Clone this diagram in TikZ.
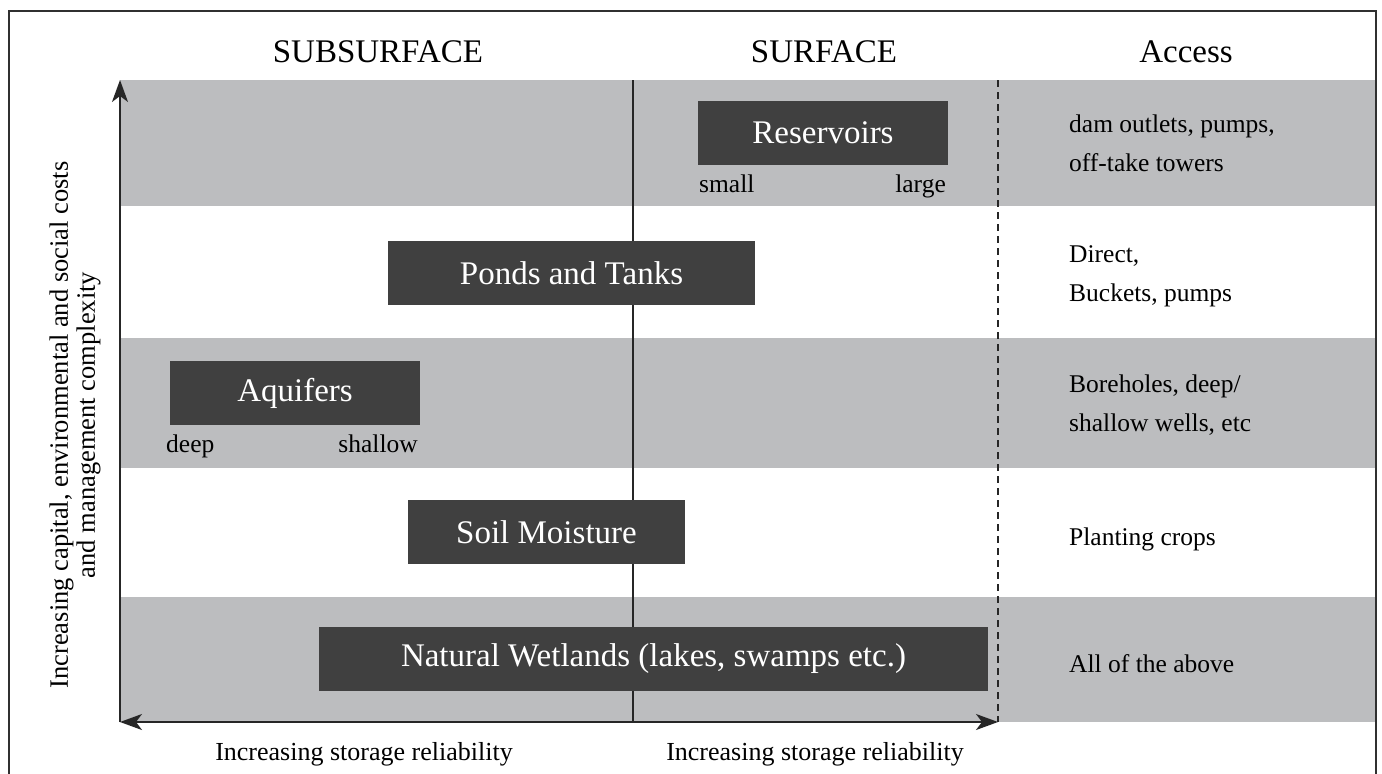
\documentclass[tikz,border=0pt]{standalone}
\usepackage{fontspec}
\setmainfont{Liberation Serif}
\usetikzlibrary{arrows.meta}
\definecolor{band}{HTML}{BCBDBF}
\definecolor{boxdark}{HTML}{404040}
\definecolor{framecol}{HTML}{303030}
\begin{document}
\begin{tikzpicture}[x=1pt,y=-1pt,
  darkbox/.style={fill=boxdark, text=white, font=\fontsize{33}{40}\selectfont, inner sep=0pt, minimum height=64pt},
  header/.style={font=\fontsize{33}{40}\selectfont, anchor=base},
  smalltext/.style={font=\fontsize{25.5}{30}\selectfont},
  axisline/.style={line width=1.6pt, draw=black!85},
  bigtip/.style={-{Stealth[length=22pt,width=16pt,inset=6pt]}},
  bandfill/.style={fill=band, draw=none}
]
\useasboundingbox (0,0) rectangle (1382,774);
\clip (0,0) rectangle (1382,774);
\fill[white] (0,0) rectangle (1382,774);

% bands
\path[bandfill] (120,80) rectangle (1376,206);
\path[bandfill] (120,338) rectangle (1376,468);
\path[bandfill] (120,597) rectangle (1376,722);

% coordinates
\coordinate (origin) at (120,722);
\coordinate (ytop) at (120,80);
\coordinate (xend) at (998,722);
\coordinate (midtop) at (633,80);
\coordinate (midbot) at (633,722);
\coordinate (dashtop) at (998,80);
\coordinate (dashbot) at (998,722);

% divider lines
\draw[line width=1.3pt, black!85] (midtop) -- (midbot);
\draw[line width=1.2pt, black!85, dash pattern=on 7pt off 5pt] (dashtop) -- (dashbot);

% axes
\draw[axisline, bigtip] (origin) -- (ytop);
\draw[axisline, {Stealth[length=22pt,width=16pt,inset=6pt]}-{Stealth[length=22pt,width=16pt,inset=6pt]}] (origin) -- (xend);

% headers
\node[header] (hsub) at (378,62) {SUBSURFACE};
\node[header] (hsurf) at (824,62) {SURFACE};
\node[header] (hacc) at (1186,62) {Access};

% dark boxes
\node[darkbox, minimum width=250pt] (res) at (823,133) {Reservoirs};
\node[darkbox, minimum width=367pt] (ponds) at (571.5,273) {Ponds and Tanks};
\node[darkbox, minimum width=250pt] (aqu) at (295,393) {Aquifers};
\node[darkbox, minimum width=277pt] (soil) at (546.5,532) {Soil Moisture};
\node[darkbox, minimum width=669pt] (wet) at (653.5,659) {Natural Wetlands (lakes, swamps etc.)};

% range labels
\node[smalltext, anchor=base west, inner sep=0pt] (small) at (699,192) {small};
\node[smalltext, anchor=base east, inner sep=0pt] (large) at (946,192) {large};
\node[smalltext, anchor=base west, inner sep=0pt] (deep) at (166,452) {deep};
\node[smalltext, anchor=base east, inner sep=0pt] (shallow) at (418,452) {shallow};

% access column
\node[smalltext, anchor=base west, inner sep=0pt] (acc1) at (1069,132) {\vtop{\baselineskip=39pt\hbox{dam outlets, pumps,}\hbox{off-take towers}}};
\node[smalltext, anchor=base west, inner sep=0pt] (acc2) at (1069,262) {\vtop{\baselineskip=39pt\hbox{Direct,}\hbox{Buckets, pumps}}};
\node[smalltext, anchor=base west, inner sep=0pt] (acc3) at (1069,392) {\vtop{\baselineskip=39pt\hbox{Boreholes, deep/}\hbox{shallow wells, etc}}};
\node[smalltext, anchor=base west, inner sep=0pt] (acc4) at (1069,545) {Planting crops};
\node[smalltext, anchor=base west, inner sep=0pt] (acc5) at (1069,672) {All of the above};

% bottom labels
\node[anchor=base, inner sep=0pt, font=\fontsize{26}{30}\selectfont] (rel1) at (364,760) {Increasing storage reliability};
\node[anchor=base, inner sep=0pt, font=\fontsize{26}{30}\selectfont] (rel2) at (815,760) {Increasing storage reliability};

% vertical label
\node[rotate=90, align=center, inner sep=0pt, font=\fontsize{26.5}{27}\selectfont] (ylab) at (75,425) {Increasing capital, environmental and social costs\\and management complexity};

% frame
\draw[line width=2pt, framecol] (9,11) rectangle (1376,800);
\end{tikzpicture}
\end{document}
